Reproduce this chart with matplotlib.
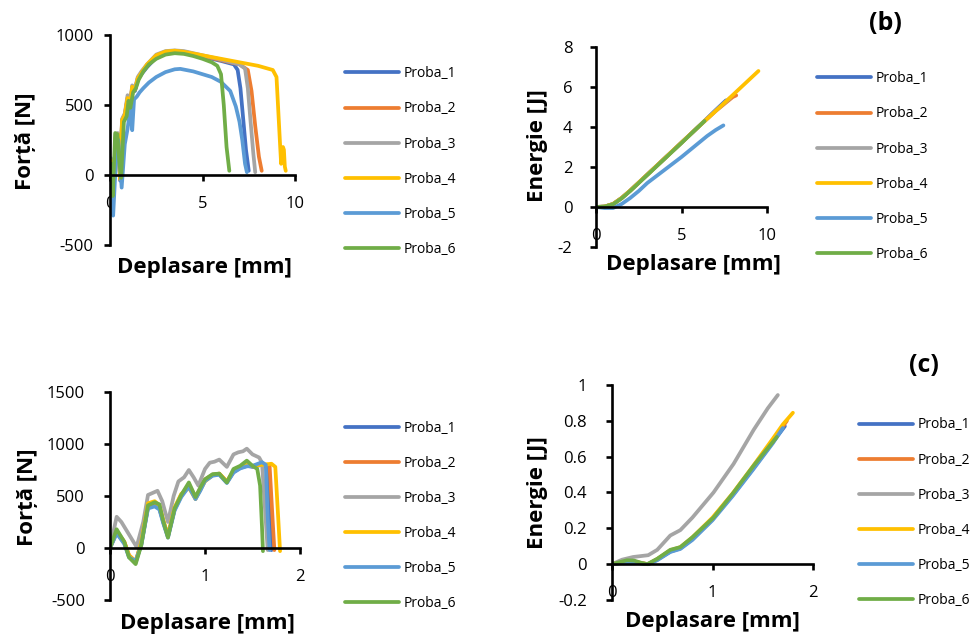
import matplotlib
matplotlib.use('Agg')
import matplotlib.pyplot as plt

plt.rcParams['font.family'] = ['Open Sans', 'DejaVu Sans']
plt.rcParams['axes.unicode_minus'] = False

W, H = 974, 635

names = ['Proba_1', 'Proba_2', 'Proba_3', 'Proba_4', 'Proba_5', 'Proba_6']
colors = ['#4472C4', '#ED7D31', '#A5A5A5', '#FFC000', '#5B9BD5', '#70AD47']

# --- top left: force vs displacement (material 1) ---
fa_x1 = [0, 0.08, 0.2, 0.3, 0.42, 0.55, 0.65, 0.8, 0.95, 1.1, 1.2, 1.35, 1.5, 1.7, 2.0, 2.5, 3.0, 3.5, 4.0, 5.0, 6.0, 6.7, 6.9, 7.05, 7.2, 7.35, 7.5]
fa_y1 = [0, 90, -120, 260, 280, -40, 380, 420, 540, 500, 620, 600, 680, 720, 770, 840, 870, 880, 875, 845, 815, 790, 750, 620, 400, 180, 30]
fa_x2 = [0, 0.08, 0.2, 0.3, 0.42, 0.55, 0.65, 0.8, 0.95, 1.1, 1.2, 1.35, 1.5, 1.7, 2.0, 2.5, 3.0, 3.5, 4.0, 5.0, 6.0, 7.0, 7.45, 7.65, 7.85, 8.05, 8.2]
fa_y2 = [0, 100, -110, 270, 290, -30, 390, 430, 550, 510, 630, 610, 690, 730, 780, 850, 880, 885, 880, 850, 820, 790, 750, 600, 350, 130, 30]
fa_x3 = [0, 0.05, 0.2, 0.3, 0.42, 0.55, 0.65, 0.8, 0.95, 1.1, 1.2, 1.35, 1.5, 1.7, 2.0, 2.5, 3.0, 3.5, 4.0, 5.0, 6.0, 7.0, 7.3, 7.45, 7.6, 7.75, 7.85]
fa_y3 = [0, 120, -100, 290, 300, -20, 400, 440, 570, 520, 640, 620, 700, 740, 790, 860, 885, 890, 885, 855, 825, 790, 760, 620, 380, 150, 20]
fa_x4 = [0, 0.08, 0.2, 0.3, 0.42, 0.55, 0.65, 0.8, 0.95, 1.1, 1.2, 1.35, 1.5, 1.7, 2.0, 2.5, 3.0, 3.5, 4.0, 5.0, 6.0, 7.0, 8.0, 8.8, 9.0, 9.1, 9.2, 9.25, 9.35, 9.4, 9.45, 9.5]
fa_y4 = [0, 100, -110, 270, 290, -30, 390, 430, 550, 510, 630, 610, 690, 730, 790, 855, 882, 888, 880, 855, 830, 805, 780, 750, 700, 450, 200, 80, 200, 180, 60, 30]
fa_x5 = [0, 0.05, 0.17, 0.3, 0.45, 0.63, 0.8, 0.95, 1.1, 1.2, 1.3, 1.45, 1.6, 1.8, 2.1, 2.5, 3.0, 3.5, 3.8, 4.5, 5.0, 5.5, 6.0, 6.5, 6.8, 7.0, 7.15, 7.3, 7.4]
fa_y5 = [0, -120, -290, 50, 250, -90, 220, 330, 480, 320, 540, 560, 590, 620, 660, 700, 735, 755, 758, 740, 720, 700, 665, 600, 490, 380, 250, 80, 20]
fa_x6 = [0, 0.05, 0.15, 0.28, 0.4, 0.5, 0.6, 0.75, 0.9, 1.0, 1.1, 1.25, 1.4, 1.55, 1.8, 2.1, 2.5, 3.0, 3.5, 4.0, 4.5, 5.0, 5.5, 5.8, 6.0, 6.15, 6.3, 6.45]
fa_y6 = [0, 80, -150, 300, 290, 100, -20, 380, 420, 530, 480, 590, 620, 680, 740, 790, 830, 860, 870, 865, 850, 830, 805, 780, 720, 500, 200, 30]

# --- top right: energy vs displacement (material 1) ---
ea_x1 = [0, 0.5, 1, 1.5, 2, 3, 4, 5, 6, 7, 7.6]
ea_y1 = [0, 0.02, 0.15, 0.45, 0.82, 1.62, 2.42, 3.22, 4.02, 4.85, 5.33]
ea_x2 = [0, 0.5, 1, 1.5, 2, 3, 4, 5, 6, 7, 8, 8.2]
ea_y2 = [0, 0.02, 0.15, 0.45, 0.82, 1.62, 2.42, 3.22, 4.02, 4.8, 5.5, 5.58]
ea_x3 = [0, 0.5, 1, 1.5, 2, 3, 4, 5, 6, 7, 7.85]
ea_y3 = [0, 0.02, 0.15, 0.45, 0.82, 1.62, 2.42, 3.22, 4.02, 4.82, 5.45]
ea_x4 = [0, 0.5, 1, 1.5, 2, 3, 4, 5, 6, 7, 8, 9, 9.5]
ea_y4 = [0, 0.02, 0.15, 0.45, 0.82, 1.62, 2.42, 3.22, 4.02, 4.8, 5.6, 6.4, 6.8]
ea_x5 = [0, 0.5, 1.0, 1.5, 2.0, 2.5, 3.0, 4.0, 5.0, 6.0, 6.5, 7.0, 7.45]
ea_y5 = [0, -0.05, -0.05, 0.15, 0.45, 0.8, 1.2, 1.85, 2.5, 3.2, 3.55, 3.85, 4.08]
ea_x6 = [0, 0.5, 1, 1.5, 2, 3, 4, 5, 6, 6.35]
ea_y6 = [0, 0.02, 0.14, 0.43, 0.8, 1.6, 2.4, 3.2, 4.02, 4.3]

# --- bottom left: force vs displacement (material 2) ---
fc_x1 = [0, 0.07, 0.15, 0.2, 0.27, 0.33, 0.4, 0.47, 0.52, 0.56, 0.61, 0.68, 0.75, 0.83, 0.9, 0.95, 1.0, 1.08, 1.15, 1.23, 1.3, 1.37, 1.44, 1.5, 1.6, 1.66, 1.68, 1.7]
fc_y1 = [0, 150, 50, -80, -140, 40, 390, 420, 380, 250, 110, 370, 500, 600, 480, 560, 650, 700, 710, 630, 730, 770, 790, 780, 800, 780, 300, -20]
fc_x2 = [0, 0.07, 0.15, 0.2, 0.27, 0.33, 0.4, 0.47, 0.52, 0.56, 0.61, 0.68, 0.75, 0.83, 0.9, 0.95, 1.0, 1.08, 1.15, 1.23, 1.3, 1.37, 1.44, 1.5, 1.6, 1.68, 1.71, 1.73]
fc_y2 = [0, 160, 60, -70, -130, 50, 400, 430, 390, 260, 120, 380, 510, 610, 490, 570, 660, 705, 715, 640, 735, 775, 795, 785, 805, 790, 300, -20]
fc_x3 = [0, 0.07, 0.12, 0.2, 0.28, 0.35, 0.4, 0.45, 0.5, 0.55, 0.61, 0.67, 0.72, 0.78, 0.83, 0.88, 0.93, 1.0, 1.05, 1.1, 1.15, 1.23, 1.3, 1.35, 1.4, 1.44, 1.5, 1.57, 1.6, 1.63, 1.66]
fc_y3 = [0, 300, 250, 130, 10, 250, 510, 530, 550, 450, 250, 500, 640, 680, 750, 680, 600, 760, 820, 830, 850, 780, 900, 920, 930, 955, 900, 870, 820, 400, -20]
fc_x4 = [0, 0.07, 0.15, 0.2, 0.27, 0.33, 0.4, 0.47, 0.52, 0.56, 0.61, 0.68, 0.75, 0.83, 0.9, 0.95, 1.0, 1.08, 1.15, 1.23, 1.3, 1.37, 1.44, 1.5, 1.6, 1.7, 1.74, 1.77, 1.79]
fc_y4 = [0, 160, 60, -70, -130, 60, 430, 450, 410, 270, 120, 390, 520, 580, 470, 560, 640, 700, 715, 640, 740, 780, 800, 790, 800, 810, 780, 300, -30]
fc_x5 = [0, 0.07, 0.15, 0.2, 0.27, 0.33, 0.4, 0.47, 0.52, 0.56, 0.61, 0.68, 0.75, 0.83, 0.9, 0.95, 1.0, 1.08, 1.15, 1.23, 1.3, 1.37, 1.44, 1.5, 1.6, 1.64, 1.66, 1.68]
fc_y5 = [0, 140, 40, -90, -125, 30, 380, 400, 370, 240, 100, 360, 490, 590, 470, 550, 645, 695, 705, 625, 725, 765, 785, 790, 825, 800, 300, -20]
fc_x6 = [0, 0.07, 0.15, 0.2, 0.27, 0.33, 0.4, 0.47, 0.52, 0.56, 0.61, 0.68, 0.75, 0.83, 0.9, 0.95, 1.0, 1.08, 1.15, 1.23, 1.3, 1.37, 1.44, 1.5, 1.55, 1.58, 1.6, 1.61]
fc_y6 = [0, 180, 60, -90, -155, 30, 410, 440, 420, 260, 100, 380, 510, 630, 490, 580, 660, 710, 715, 630, 760, 790, 840, 790, 760, 600, 200, -30]

# --- bottom right: energy vs displacement (material 2) ---
ec_x1 = [0, 0.15, 0.22, 0.3, 0.36, 0.45, 0.58, 0.68, 0.8, 1.0, 1.2, 1.4, 1.6, 1.72]
ec_y1 = [0, 0.012, 0.012, 0.004, 0, 0.025, 0.07, 0.088, 0.14, 0.25, 0.385, 0.53, 0.68, 0.77]
ec_x2 = [0, 0.15, 0.22, 0.3, 0.36, 0.45, 0.58, 0.68, 0.8, 1.0, 1.2, 1.4, 1.6, 1.74]
ec_y2 = [0, 0.015, 0.015, 0.005, 0, 0.028, 0.075, 0.092, 0.145, 0.255, 0.39, 0.54, 0.69, 0.80]
ec_x3 = [0, 0.1, 0.21, 0.36, 0.45, 0.58, 0.68, 0.8, 1.01, 1.21, 1.41, 1.55, 1.65]
ec_y3 = [0, 0.025, 0.04, 0.05, 0.08, 0.16, 0.19, 0.26, 0.40, 0.56, 0.75, 0.87, 0.944]
ec_x4 = [0, 0.15, 0.22, 0.3, 0.36, 0.45, 0.58, 0.68, 0.8, 1.0, 1.2, 1.4, 1.6, 1.7, 1.8]
ec_y4 = [0, 0.015, 0.015, 0.005, 0, 0.028, 0.078, 0.095, 0.15, 0.26, 0.395, 0.545, 0.70, 0.78, 0.845]
ec_x5 = [0, 0.15, 0.22, 0.3, 0.36, 0.45, 0.58, 0.68, 0.8, 1.0, 1.2, 1.4, 1.6, 1.7]
ec_y5 = [0, 0.01, 0.01, 0.003, 0, 0.022, 0.068, 0.085, 0.135, 0.245, 0.38, 0.525, 0.675, 0.76]
ec_x6 = [0, 0.15, 0.22, 0.3, 0.35, 0.45, 0.58, 0.68, 0.8, 1.01, 1.21, 1.41, 1.64]
ec_y6 = [0, 0.022, 0.02, 0.006, 0, 0.03, 0.08, 0.095, 0.15, 0.26, 0.40, 0.55, 0.71]

fa_x = [fa_x1, fa_x2, fa_x3, fa_x4, fa_x5, fa_x6]
fa_y = [fa_y1, fa_y2, fa_y3, fa_y4, fa_y5, fa_y6]
ea_x = [ea_x1, ea_x2, ea_x3, ea_x4, ea_x5, ea_x6]
ea_y = [ea_y1, ea_y2, ea_y3, ea_y4, ea_y5, ea_y6]
fc_x = [fc_x1, fc_x2, fc_x3, fc_x4, fc_x5, fc_x6]
fc_y = [fc_y1, fc_y2, fc_y3, fc_y4, fc_y5, fc_y6]
ec_x = [ec_x1, ec_x2, ec_x3, ec_x4, ec_x5, ec_x6]
ec_y = [ec_y1, ec_y2, ec_y3, ec_y4, ec_y5, ec_y6]

# tick values / labels
ta_xt = [0, 5, 10]
ta_yt = [-500, 0, 500, 1000]
tb_yt = [-2, 0, 2, 4, 6, 8]
tc_xt = [0, 1, 2]
tc_yt = [-500, 0, 500, 1000, 1500]
td_yt = [-0.2, 0, 0.2, 0.4, 0.6, 0.8, 1]
td_ylab = ['-0.2', '0', '0.2', '0.4', '0.6', '0.8', '1']


def px_rect(left, top, right, bottom):
    return [left / W, 1 - bottom / H, (right - left) / W, (bottom - top) / H]


def setup(ax, xlim, ylim, xt, yt, ylab, ypad):
    ax.set_xlim(xlim)
    ax.set_ylim(ylim)
    for s in ['top', 'right']:
        ax.spines[s].set_visible(False)
    ax.spines['bottom'].set_position(('data', 0))
    for s in ['left', 'bottom']:
        ax.spines[s].set_linewidth(1.9)
    ax.patch.set_alpha(0)
    ax.set_xticks(xt)
    ax.set_xticklabels([str(v) for v in xt])
    ax.set_yticks(yt)
    ax.set_yticklabels(ylab)
    ax.tick_params(axis='both', direction='out', length=4, width=1.9, labelsize=12, colors='black')
    ax.tick_params(axis='x', pad=11)
    ax.tick_params(axis='y', pad=ypad)


def draw(ax, xs, ys):
    for x, y, c, n in zip(xs, ys, colors, names):
        ax.plot(x, y, color=c, lw=2.7, label=n, solid_capstyle='round', solid_joinstyle='round')


def legend(ax, left, center_y):
    ax.legend(loc='center left', bbox_to_anchor=(left / W, 1 - center_y / H),
              bbox_transform=fig.transFigure, frameon=False, fontsize=10,
              handlelength=3.9, handletextpad=0.35, labelspacing=1.45,
              borderpad=0, borderaxespad=0)


fig = plt.figure(figsize=(W / 100, H / 100), dpi=100)

ax1 = fig.add_axes(px_rect(110, 35, 295, 245))
draw(ax1, fa_x, fa_y)
setup(ax1, (0, 10), (-500, 1000), ta_xt, ta_yt, [str(v) for v in ta_yt], 8)
legend(ax1, 345, 161.7)

ax2 = fig.add_axes(px_rect(596, 47, 767, 247))
draw(ax2, ea_x, ea_y)
setup(ax2, (0, 10), (-2, 8), ta_xt, tb_yt, [str(v) for v in tb_yt], 13)
legend(ax2, 817, 166.7)

ax3 = fig.add_axes(px_rect(110, 392, 300, 600))
draw(ax3, fc_x, fc_y)
setup(ax3, (0, 2), (-500, 1500), tc_xt, tc_yt, [str(v) for v in tc_yt], 14)
legend(ax3, 345, 516)

ax4 = fig.add_axes(px_rect(612, 385, 813, 600))
draw(ax4, ec_x, ec_y)
setup(ax4, (0, 2), (-0.2, 1), tc_xt, td_yt, td_ylab, 14)
legend(ax4, 859, 512.8)

bold = dict(fontsize=16, fontweight='bold', ha='center', va='center')
fig.text(204 / W, 1 - 267 / H, 'Deplasare [mm]', **bold)
fig.text(693 / W, 1 - 265 / H, 'Deplasare [mm]', **bold)
fig.text(207 / W, 1 - 623 / H, 'Deplasare [mm]', **bold)
fig.text(712 / W, 1 - 622 / H, 'Deplasare [mm]', **bold)
fig.text(26 / W, 1 - 141 / H, 'Forță [N]', rotation=90, **bold)
fig.text(27 / W, 1 - 497 / H, 'Forță [N]', rotation=90, **bold)
fig.text(537 / W, 1 - 146 / H, 'Energie [J]', rotation=90, **bold)
fig.text(537 / W, 1 - 493 / H, 'Energie [J]', rotation=90, **bold)

fig.text(885 / W, 1 - 23 / H, '(b)', fontsize=18, fontweight='bold', ha='center', va='center')
fig.text(924 / W, 1 - 365 / H, '(c)', fontsize=18, fontweight='bold', ha='center', va='center')

fig.savefig('out.png', dpi=100)
